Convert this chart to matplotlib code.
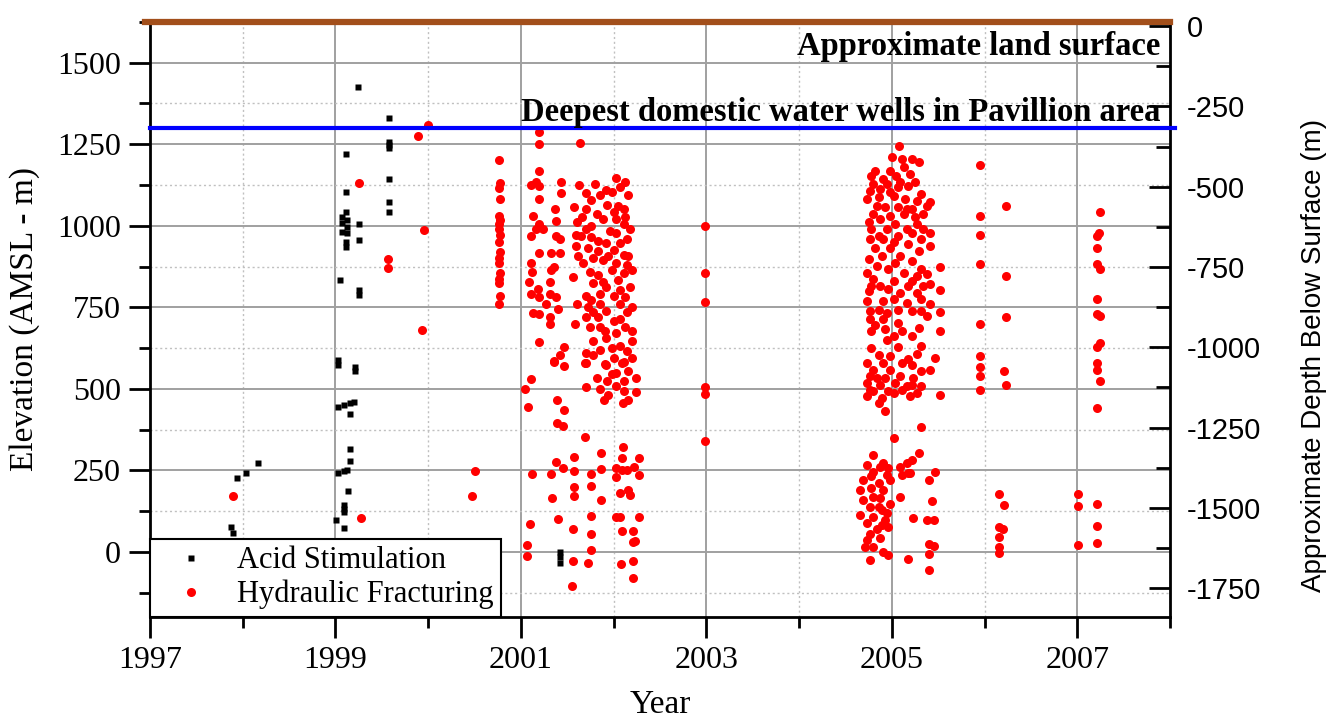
import matplotlib.pyplot as plt
from matplotlib.ticker import MultipleLocator, FixedLocator

plt.rcParams["axes.unicode_minus"] = False

# Acid stimulation treatments (year, elevation m AMSL)
acid_year = [1999.24, 1999.58, 1999.58, 1999.58, 1999.58, 1999.11, 1999.58, 1999.11, 1999.58, 1999.58,
             1999.11, 1999.07, 1999.07, 1999.07, 1999.12, 1999.12, 1999.12, 1999.25, 1999.11, 1999.11,
             1999.25, 1999.05, 1999.25, 1999.25,
             1999.03, 1999.03, 1999.21, 1999.21, 1999.03, 1999.09, 1999.16, 1999.20, 1999.16, 1999.16,
             1999.16, 1999.03, 1999.09, 1999.12, 1999.14, 1999.09, 1999.09, 1999.09, 1999.01, 1999.09,
             1997.94, 1998.03, 1998.16, 1997.87, 1997.89,
             2001.42, 2001.42, 2001.42]
acid_elev = [1425, 1332, 1258, 1248, 1238, 1219, 1143, 1103, 1074, 1043,
             1043, 1028, 1007, 982, 1017, 997, 977, 1005, 951, 935,
             956, 833, 802, 787,
             587, 572, 567, 556, 444, 449, 456, 459, 423, 316,
             278, 241, 247, 251, 185, 144, 131, 121, 98, 73,
             226, 243, 271, 75, 59,
             -2, -17, -33]

# Hydraulic fracturing treatments, grouped by campaign
hf_early_year = [1997.90, 1999.28, 1999.25, 1999.57, 1999.57, 1999.89, 2000.00, 1999.95, 1999.93, 2000.51, 2000.47]
hf_early_elev = [172, 104, 1132, 897, 869, 1274, 1309, 987, 679, 247, 170]

hf_2000_year = [2000.76, 2000.77, 2000.76, 2000.77, 2000.76, 2000.77, 2000.76, 2000.76, 2000.77,
                2000.76, 2000.77, 2000.76, 2000.76, 2000.77, 2000.76, 2000.76, 2000.77, 2000.76]
hf_2000_elev = [1203, 1130, 1115, 1081, 1029, 1019, 1005, 990, 971, 950, 919, 901, 885, 854, 838, 823, 786, 760]

hf_2001_year = [2001.19, 2001.19, 2001.19, 2001.11, 2001.20, 2001.16, 2001.19, 2001.43, 2001.43, 2001.37,
                2001.38, 2001.13, 2001.20, 2001.16, 2001.24, 2001.11, 2001.38, 2001.42, 2001.19, 2001.33,
                2001.42, 2001.11, 2001.36, 2001.12, 2001.33, 2001.09, 2001.31, 2001.18, 2001.11, 2001.20,
                2001.31, 2001.38, 2001.27, 2001.40, 2001.13, 2001.19, 2001.31, 2001.31, 2001.19, 2001.47,
                2001.42, 2001.36,
                2001.36, 2001.46, 2001.11, 2001.04, 2001.08, 2001.39, 2001.46, 2001.39, 2001.45, 2001.38,
                2001.45, 2001.33, 2001.12, 2001.34, 2001.40, 2001.10, 2001.07, 2001.07]
hf_2001_elev = [1287, 1252, 1169, 1125, 1123, 1135, 1081, 1135, 1099, 1052,
                1016, 1031, 1005, 990, 990, 969, 969, 958, 917, 915,
                915, 885, 875, 859, 865, 828, 828, 807, 792, 781,
                792, 781, 760, 745, 731, 729, 719, 700, 644, 627,
                604, 583,
                585, 570, 529, 500, 444, 465, 434, 395, 387, 276,
                256, 240, 238, 166, 101, 86, 22, -13]

hf_2002_year = [2001.64, 2001.80, 2001.92, 2002.03, 2002.12, 2002.07, 2002.16, 2001.70, 2001.76, 2001.93,
                2002.05, 2002.11, 2001.70, 2001.82, 2002.12, 2002.00, 2001.66, 2002.11, 2001.70, 2001.59,
                2002.03, 2001.76, 2001.83, 2001.92, 2002.14, 2001.72, 2001.83, 2002.00, 2002.11, 2001.59,
                2001.89, 2002.03, 2002.16, 2001.67, 2001.74, 2001.83, 2001.98, 2002.11, 2002.20, 2001.56,
                2001.78, 2001.92, 2002.05, 2002.18, 2001.85, 2002.00, 2002.12, 2001.70, 2001.61, 2001.72,
                2001.85, 2002.07, 2002.20, 2001.78, 2001.92, 2001.70, 2002.00, 2001.85, 2001.74, 2002.12,
                2002.03, 2001.78, 2001.92, 2002.20, 2001.85, 2002.07, 2001.70, 2002.00, 2002.14, 2001.70,
                2001.92, 2002.11, 2001.58, 2001.57,
                2001.63, 2001.85, 2001.98, 2001.60, 2001.89, 2002.03, 2001.76, 2002.18, 2001.96, 2001.65,
                2002.07, 2001.78, 2001.94, 2001.62, 2002.14, 2001.89, 2002.07, 2001.76, 2002.14, 2001.83,
                2002.07, 2001.91, 2002.20, 2001.78, 2001.98, 2002.20,
                2001.69, 2001.91, 2002.09, 2002.03, 2001.82, 2001.93, 2002.11, 2002.24, 2002.24, 2002.11,
                2002.10, 2001.90, 2001.94, 2001.70, 2001.98, 2002.16, 2001.85, 2002.03, 2002.16,
                2001.69, 2002.10, 2002.27, 2002.09, 2001.86, 2001.57,
                2002.03, 2002.14, 2002.22, 2002.27, 2002.03, 2001.86, 2001.76, 2001.57, 2001.57, 2001.57,
                2001.76, 2001.86, 2002.07, 2002.18, 2002.09, 2002.16, 2002.03,
                2001.56, 2001.76, 2001.76, 2002.07, 2002.27, 2002.09,
                2002.21, 2002.23, 2002.21, 2001.56, 2001.76, 2001.72, 2002.08, 2002.21, 2002.21, 2001.55]
hf_2002_elev = [1255, 1127, 1109, 1146, 1135, 1120, 1094, 1099, 1078, 1065,
                1062, 1052, 1052, 1036, 1026, 1042, 1026, 1005, 990, 971,
                979, 964, 953, 948, 958, 932, 922, 927, 911, 937,
                896, 885, 906, 885, 859, 849, 865, 854, 865, 844,
                823, 812, 833, 812, 792, 786, 781, 786, 760, 750,
                760, 760, 750, 734, 740, 719, 708, 688, 688, 688,
                672, 646, 656, 646, 620, 630, 609, 594, 615, 578,
                573, 583, 698, 1057,
                1125, 1094, 1104, 1010, 1021, 1021, 1000, 990, 984, 969,
                948, 901, 906, 906, 880, 828, 802, 771, 734, 719,
                713, 677, 677, 604, 625, 594,
                580, 575, 580, 549, 534, 524, 524, 534, 490, 493,
                457, 467, 482, 506, 544, 555, 498, 508, 467,
                351, 321, 287, 287, 302, 292,
                256, 251, 261, 235, 228, 253, 238, 249, 199, 170,
                201, 160, 179, 173, 251, 189, 107,
                70, 109, 55, 107, 107, 63,
                65, 34, 29, -27, 7, -35, -38, -27, -81, -105]

hf_2003_year = [2002.99, 2002.99, 2002.99, 2002.99, 2002.99, 2002.99]
hf_2003_elev = [1000, 855, 765, 505, 485, 340]

hf_2005_year = [2005.08, 2005.00, 2005.11, 2005.22, 2005.29, 2004.82, 2004.98, 2005.13, 2004.91, 2005.05,
                2005.20, 2004.80, 2004.95, 2005.25, 2004.77, 2004.87, 2005.07, 2005.18, 2005.32, 2005.41,
                2004.73, 2004.86, 2005.02, 2005.14, 2005.27, 2005.38, 2004.93, 2005.07, 2005.22, 2004.80,
                2004.98, 2005.13, 2004.87, 2004.75, 2005.04, 2005.27, 2005.41, 2005.16, 2004.95, 2004.77,
                2004.86, 2005.07, 2005.31, 2005.41, 2004.82, 2004.98, 2005.18, 2005.29, 2004.89, 2005.09,
                2005.22, 2005.52, 2004.73, 2004.96, 2005.13, 2005.32, 2005.38, 2004.80, 2005.02, 2005.22,
                2004.87, 2005.41, 2005.52, 2004.75, 2005.09, 2005.27, 2004.73, 2004.91, 2005.02, 2005.16,
                2005.41, 2005.31, 2004.77, 2004.95, 2005.22, 2005.52, 2005.38, 2004.77, 2004.91, 2005.07,
                2005.29, 2004.78, 2004.93, 2005.11, 2005.52, 2004.95,
                2004.78, 2004.84, 2004.98, 2005.09, 2005.16, 2005.25, 2005.34, 2004.78, 2004.91, 2005.02,
                2005.22, 2005.34, 2004.75, 2004.84, 2005.04, 2005.27, 2004.78, 2004.96, 2005.18, 2005.34,
                2004.86, 2005.07, 2005.32, 2004.82, 2005.02, 2005.22, 2005.32, 2004.78, 2004.98, 2005.18,
                2005.07, 2004.86, 2005.27, 2005.47, 2004.73, 2004.91, 2005.11, 2005.22, 2005.41, 2004.80,
                2004.98, 2005.31, 2004.77, 2004.93, 2005.09, 2005.23, 2004.73, 2004.87, 2005.04, 2005.16,
                2004.80, 2004.96, 2005.11, 2005.27, 2004.73, 2004.89, 2005.52, 2004.86, 2004.93, 2004.77,
                2004.84, 2005.02, 2005.22, 2005.32, 2005.20,
                2005.32, 2005.02, 2005.29, 2004.80, 2005.22, 2005.16, 2004.73, 2004.87, 2004.96, 2005.09,
                2005.47, 2005.20, 2005.11, 2004.80, 2004.95, 2005.40, 2004.69, 2004.86, 2004.98, 2004.78,
                2004.66, 2004.91, 2004.69, 2004.87, 2005.09, 2005.43, 2004.98, 2004.77, 2004.89, 2004.66,
                2004.80, 2005.38, 2005.45, 2005.23, 2004.93, 2004.73, 2004.84, 2004.96, 2004.77, 2004.87,
                2005.40, 2005.45, 2004.71, 2004.80, 2004.91, 2004.96, 2005.40, 2004.77, 2005.18, 2005.40,
                2004.78, 2004.91, 2004.86, 2004.95, 2004.80, 2005.18, 2004.89, 2004.73]
hf_2005_elev = [1244, 1210, 1205, 1205, 1195, 1169, 1169, 1180, 1144, 1154,
                1159, 1128, 1128, 1133, 1108, 1113, 1118, 1123, 1097, 1072,
                1082, 1087, 1092, 1082, 1077, 1062, 1056, 1056, 1051, 1036,
                1031, 1036, 1021, 1010, 1005, 1005, 979, 990, 990, 959,
                969, 969, 959, 938, 933, 933, 944, 923, 908, 908,
                892, 875, 856, 867, 856, 867, 851, 836, 831, 831,
                815, 820, 803, 800, 795, 795, 769, 769, 774, 764,
                759, 774, 738, 733, 738, 735, 723, 713, 713, 702,
                687, 677, 682, 677, 676, 651,
                1154, 1062, 1103, 1133, 1051, 1026, 1036, 990, 959, 949,
                979, 990, 897, 877, 887, 846, 815, 805, 815, 815,
                743, 743, 738, 697, 661, 661, 631, 626, 600, 590,
                629, 605, 608, 595, 579, 579, 579, 574, 559, 559,
                559, 554, 538, 533, 538, 533, 518, 513, 518, 508,
                492, 492, 497, 487, 477, 472, 482, 456, 431, 497,
                533, 487, 513, 508, 477,
                384, 349, 302, 297, 282, 272, 266, 261, 256, 261,
                246, 241, 236, 246, 236, 220, 220, 210, 220, 195,
                189, 189, 159, 164, 169, 157, 148, 138, 128, 112,
                107, 97, 97, 105, 97, 87, 71, 77, 56, 41,
                25, 17, 15, 15, 0, -11, -8, -26, -21, -57,
                231, 272, 138, 118, 169, 241, 82, 36]

hf_2006_year = [2005.95, 2005.95, 2005.95, 2005.95, 2005.95, 2005.95, 2005.95, 2005.95, 2005.95,
                2006.23, 2006.23, 2006.23, 2006.21, 2006.23, 2006.16, 2006.21, 2006.16, 2006.20, 2006.16,
                2006.16, 2006.16]
hf_2006_elev = [1185, 1031, 971, 882, 699, 600, 567, 538, 497,
                1062, 846, 721, 554, 513, 177, 143, 77, 71, 44,
                15, -5]

hf_2007_year = [2007.01, 2007.01, 2007.01, 2007.25, 2007.24, 2007.21, 2007.21, 2007.21, 2007.25, 2007.21,
                2007.21, 2007.25, 2007.25, 2007.21, 2007.21, 2007.21, 2007.25, 2007.21, 2007.21, 2007.21,
                2007.21]
hf_2007_elev = [177, 140, 20, 1043, 979, 969, 933, 882, 867, 774,
                728, 723, 641, 629, 579, 557, 523, 441, 146, 80,
                27]

land_surface = 1625
deepest_well = 1300
year_labels = [1997, 1999, 2001, 2003, 2005, 2007]
year_minor = [1998, 2000, 2002, 2004, 2006, 2008]

hf_year = hf_early_year + hf_2000_year + hf_2001_year + hf_2002_year + hf_2003_year + hf_2005_year + hf_2006_year + hf_2007_year
hf_elev = hf_early_elev + hf_2000_elev + hf_2001_elev + hf_2002_elev + hf_2003_elev + hf_2005_elev + hf_2006_elev + hf_2007_elev

SERIF = "Liberation Serif"
SANS = "Liberation Sans"

fig = plt.figure(figsize=(13.31, 7.23), dpi=100)
ax = fig.add_axes([0.1127, 0.1466, 0.7663, 0.823])

ax.plot(hf_year, hf_elev, "o", color="#ff0000", ms=6.5, mec="none", label="Hydraulic Fracturing", zorder=3)
ax.plot(acid_year, acid_elev, "s", color="black", ms=5, mec="none", label="Acid Stimulation", zorder=4)

ax.set_xlim(1997, 2008)
ax.set_ylim(-200, 1625)
ax.xaxis.set_major_locator(FixedLocator(year_labels))
ax.xaxis.set_minor_locator(FixedLocator(year_minor))
ax.yaxis.set_major_locator(MultipleLocator(250))
ax.yaxis.set_minor_locator(MultipleLocator(125))
ax.grid(which="major", color="#a0a0a0", lw=1.4, zorder=0)
ax.grid(which="minor", color="#c0c0c0", lw=1.0, ls=(0, (1.5, 2)), zorder=0)
ax.set_axisbelow(True)

ax.tick_params(which="major", direction="out", length=15, width=2, labelsize=23, pad=6)
ax.tick_params(which="minor", direction="out", length=8, width=2)
for lab in ax.get_xticklabels() + ax.get_yticklabels():
    lab.set_fontfamily(SERIF)
for s in ["left", "bottom", "right"]:
    ax.spines[s].set_linewidth(2)
ax.spines["top"].set_visible(False)

ax.set_xlabel("Year", fontsize=24, family=SERIF, labelpad=10)
ax.set_ylabel("Elevation (AMSL - m)", fontsize=24, family=SERIF, labelpad=12)

ax.plot([1996.95, 2008], [land_surface, land_surface], color="#a24f1b", lw=4.5, clip_on=False, zorder=5)
ax.plot([1997, 2008.05], [deepest_well, deepest_well], color="#0000ff", lw=3, clip_on=False, zorder=5)
ax.text(2007.9, 1549, "Approximate land surface", ha="right", va="center",
        fontsize=23.5, fontweight="bold", family=SERIF, zorder=6)
ax.text(2007.9, 1346, "Deepest domestic water wells in Pavillion area", ha="right", va="center",
        fontsize=23.5, fontweight="bold", family=SERIF, zorder=6)

handles, labels = ax.get_legend_handles_labels()
leg = ax.legend(handles[::-1], labels[::-1], loc="lower left", borderaxespad=0, fancybox=False,
                framealpha=1, edgecolor="black", prop={"family": SERIF, "size": 22},
                handletextpad=0.4, handlelength=2.2, borderpad=0.25, labelspacing=0.15)
leg.get_frame().set_linewidth(1.5)
leg.set_zorder(10)

ax2 = ax.twinx()
ax2.set_ylim(-1840, 13)
ax2.yaxis.set_major_locator(MultipleLocator(250))
ax2.yaxis.set_minor_locator(MultipleLocator(125))
ax2.tick_params(which="major", direction="in", length=15, width=2, labelsize=21, pad=12)
ax2.tick_params(which="minor", direction="in", length=10, width=2)
for lab in ax2.get_yticklabels():
    lab.set_fontfamily(SANS)
for s in ["left", "bottom", "right", "top"]:
    ax2.spines[s].set_visible(False)
ax2.set_ylabel("Approximate Depth Below Surface (m)", fontsize=20, family=SANS)
ax2.yaxis.set_label_coords(1.128, 0.44)

fig.savefig("out.png", dpi=100)
